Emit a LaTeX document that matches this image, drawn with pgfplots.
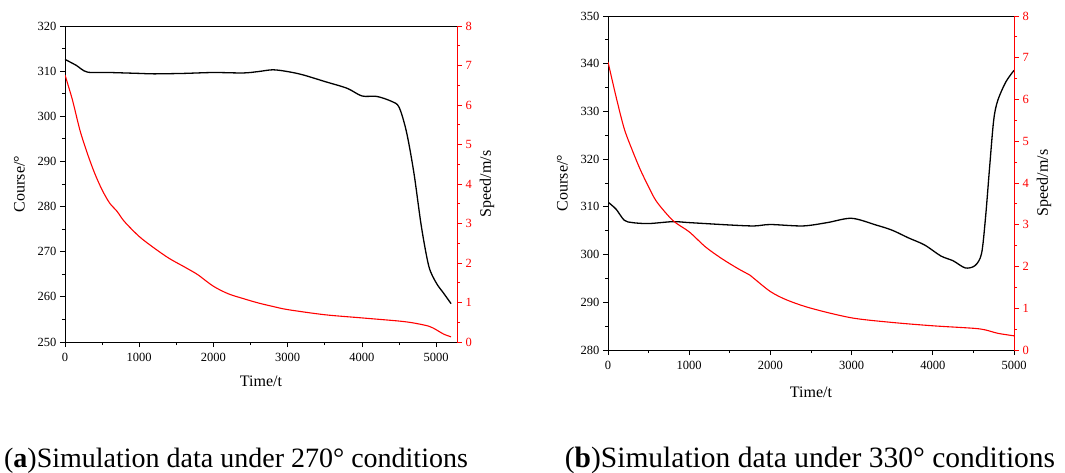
\documentclass[border=0pt]{standalone}
\usepackage{fontspec}
\setmainfont{Liberation Serif}
\usepackage{pgfplots}
\pgfplotsset{compat=1.18}

\pgfplotsset{
  panel/.style={scale only axis, anchor=south west,
    tick label style={font=\fontsize{12.5}{14}\selectfont},
    label style={font=\fontsize{16}{18}\selectfont},
    /pgf/number format/assume math mode=true,
    /pgf/number format/1000 sep={},
    tick align=outside, major tick length=5pt, minor tick length=3pt,
    minor tick num=1, axis line style={line width=0.8pt},
    every tick/.style={line width=0.8pt},
    xticklabel style={yshift=-3pt}},
}

\begin{document}
\begin{tikzpicture}
\useasboundingbox (0pt,0pt) rectangle (1065pt,472pt);

% ---------- (a) 270 deg ----------
\begin{axis}[panel, at={(65pt,130pt)}, width=392pt, height=316pt,
  xmin=0, xmax=5280, ymin=250, ymax=320,
  xtick={0,1000,...,5000}, ytick={250,260,...,320},
  xtick pos=bottom, ytick pos=left,
  xlabel={Time/t}, ylabel={Course/°},
  xlabel style={yshift=-7pt}, ylabel style={yshift=6pt}]
\addplot[black, line width=1.3pt, smooth] coordinates {
  (0,312.6) (150,311.3) (300,309.8) (600,309.7) (1000,309.5) (1200,309.4)
  (1600,309.5) (2000,309.7) (2400,309.6) (2600,309.9) (2800,310.3) (3000,309.9)
  (3200,309.2) (3500,307.7) (3800,306.2) (4000,304.5) (4200,304.4) (4400,303.3)
  (4500,302.0) (4600,296.5) (4700,287.4) (4800,275.6) (4900,266.8) (5000,263.1)
  (5100,260.8) (5200,258.5)};
\end{axis}
\begin{axis}[panel, at={(65pt,130pt)}, width=392pt, height=316pt,
  xmin=0, xmax=5280, ymin=0, ymax=8, ytick={0,...,8},
  axis y line*=right, axis x line=none,
  y axis line style={red}, ytick style={red},
  yticklabel style={red},
  ylabel={Speed/m/s}, ylabel style={yshift=-1pt}]
\addplot[red, line width=1.1pt, smooth] coordinates {
  (0,6.76) (100,6.13) (200,5.37) (300,4.78) (400,4.27) (500,3.85) (600,3.52)
  (700,3.31) (800,3.05) (1000,2.67) (1200,2.38) (1400,2.12) (1600,1.91)
  (1750,1.75) (1800,1.69) (2000,1.41) (2200,1.22) (2400,1.10) (2600,0.99)
  (2800,0.90) (3000,0.82) (3500,0.69) (4000,0.61) (4500,0.53) (4700,0.48)
  (4900,0.40) (5000,0.31) (5100,0.20) (5200,0.13)};
\end{axis}

% ---------- (b) 330 deg ----------
\begin{axis}[panel, at={(608pt,122pt)}, width=406pt, height=334pt,
  xmin=0, xmax=5000, ymin=280, ymax=350,
  xtick={0,1000,...,5000}, ytick={280,290,...,350},
  xtick pos=bottom, ytick pos=left,
  xlabel={Time/t}, ylabel={Course/°},
  xlabel style={yshift=-10pt}, ylabel style={yshift=6pt}]
\addplot[black, line width=1.3pt, smooth] coordinates {
  (0,311.0) (100,309.5) (200,307.2) (300,306.7) (500,306.5) (800,306.9)
  (1000,306.7) (1500,306.2) (1800,306.0) (2000,306.3) (2400,306.0) (2700,306.7)
  (3000,307.6) (3300,306.2) (3500,305.1) (3700,303.5) (3900,302.0) (4100,299.7)
  (4250,298.7) (4400,297.2) (4520,297.7) (4600,300.2) (4650,307.9) (4700,318.4)
  (4750,328.2) (4800,332.3) (4900,336.2) (5000,338.6)};
\end{axis}
\begin{axis}[panel, at={(608pt,122pt)}, width=406pt, height=334pt,
  xmin=0, xmax=5000, ymin=0, ymax=8, ytick={0,...,8},
  axis y line*=right, axis x line=none,
  y axis line style={red}, ytick style={red},
  yticklabel style={red},
  ylabel={Speed/m/s}, ylabel style={yshift=-1pt}]
\addplot[red, line width=1.1pt, smooth] coordinates {
  (0,6.90) (100,6.06) (200,5.30) (300,4.78) (400,4.31) (500,3.91) (600,3.55)
  (800,3.10) (1000,2.83) (1200,2.47) (1400,2.19) (1600,1.95) (1750,1.79)
  (1800,1.71) (2000,1.40) (2200,1.20) (2500,1.00) (3000,0.77) (3500,0.66)
  (4000,0.58) (4500,0.52) (4650,0.48) (4800,0.40) (5000,0.34)};
\end{axis}

% captions
\node[anchor=base, font=\fontsize{28}{30}\selectfont] at (236pt,5pt)
  {(\textbf{a})Simulation data under 270° conditions};
\node[anchor=base, font=\fontsize{29.5}{31}\selectfont] at (810pt,5pt)
  {(\textbf{b})Simulation data under 330° conditions};
\end{tikzpicture}
\end{document}
